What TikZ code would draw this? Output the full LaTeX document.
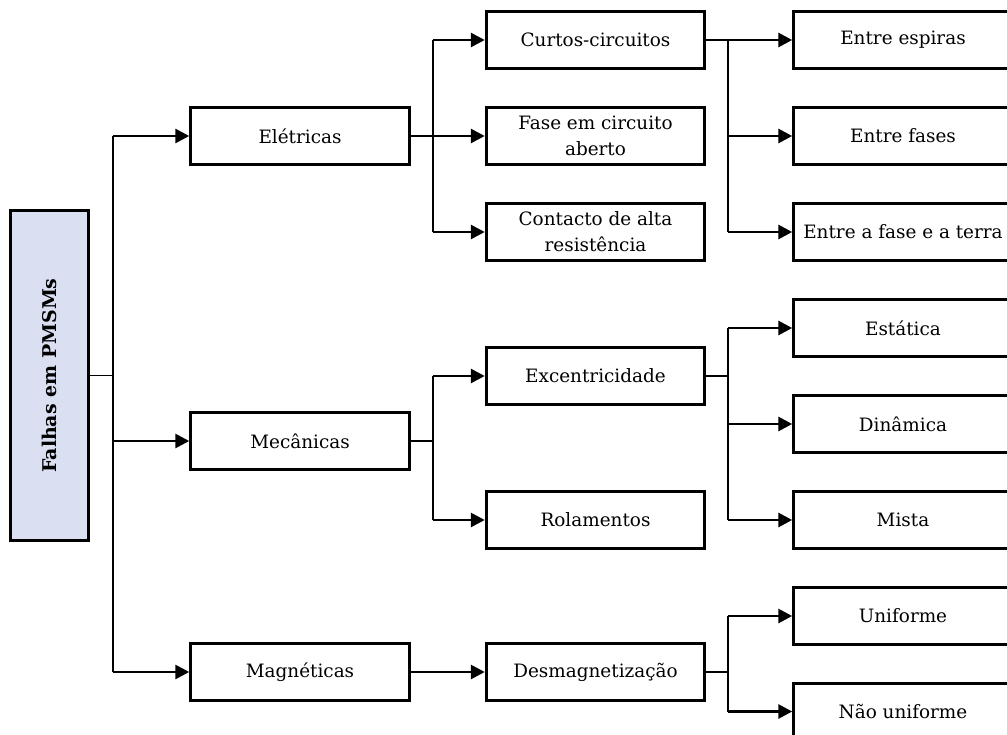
\documentclass[tikz,border=0pt]{standalone}
\usepackage{fontspec}
\setmainfont{DejaVu Serif}
\usepackage{tikz}
\usetikzlibrary{arrows.meta}

\definecolor{rootblue}{RGB}{218,224,242}

\tikzset{
  box/.style={draw,line width=2.1pt,minimum width=164pt,minimum height=42.5pt,
    inner sep=1pt,align=center,font=\fontsize{13.8}{19.5}\selectfont},
  rootbox/.style={draw,line width=2.1pt,fill=rootblue,minimum width=59pt,
    minimum height=247pt,inner sep=0pt},
  conn/.style={line width=2.1pt},
  thinconn/.style={line width=1.1pt},
  arr/.style={line width=2.1pt,-{Triangle[length=10.5pt,width=10.5pt]}}
}

\begin{document}
\begin{tikzpicture}[x=0.75pt,y=-0.75pt]
  \useasboundingbox
    (0,0)
    rectangle
    (1007,735);
  \clip
    (0,0)
    rectangle
    (1007,735);
  \coordinate (t0) at (113,0);
  \coordinate (t1) at (433,0);
  \coordinate (t2) at (728,0);
  \node[rootbox] (root) at (49.5,375.5) {};
  \node[rotate=90,font=\fontsize{14.2}{18}\selectfont\bfseries] (roottext)
    at (root.center) {Falhas em PMSMs};
  \node[box] (ele) at (300,136) {Elétricas};
  \node[box] (mec) at (300,441) {Mecânicas};
  \node[box] (mag) at (300,672) {Magnéticas};
  \node[box] (curtos) at (595.5,40) {Curtos-circuitos};
  \node[box] (fase) at (595.5,136) {Fase em circuito\\aberto};
  \node[box] (cont) at (595.5,232) {Contacto de alta\\resistência};
  \node[box] (exc) at (595.5,376) {Excentricidade};
  \node[box] (rol) at (595.5,520) {Rolamentos};
  \node[box] (des) at (595.5,672) {Desmagnetização};
  \node[box] (esp) at (903,40) {Entre espiras};
  \node[box] (fases) at (903,136) {Entre fases};
  \node[box] (terra) at (903,232) {Entre a fase e a terra};
  \node[box] (est) at (903,328) {Estática};
  \node[box] (din) at (903,424) {Dinâmica};
  \node[box] (mis) at (903,520) {Mista};
  \node[box] (uni) at (903,616) {Uniforme};
  \node[box] (nao) at (903,711.5) {Não uniforme};
  % root
  \draw[thinconn]
    (root.east)
    --
    (root.east -| t0);
  \draw[conn]
    (ele.west -| t0)
    --
    (mag.west -| t0);
  \foreach \n in {ele,mec,mag}
    \draw[arr] (\n.west -| t0) -- (\n.west);
  % Eletricas
  \draw[arr]
    (ele.east)
    --
    (fase.west);
  \draw[conn]
    (curtos.west -| t1)
    --
    (cont.west -| t1);
  \foreach \n in {curtos,cont}
    \draw[arr] (\n.west -| t1) -- (\n.west);
  % Mecanicas
  \draw[conn]
    (mec.east)
    --
    (mec.east -| t1);
  \draw[conn]
    (exc.west -| t1)
    --
    (rol.west -| t1);
  \foreach \n in {exc,rol}
    \draw[arr] (\n.west -| t1) -- (\n.west);
  % Magneticas
  \draw[arr]
    (mag.east)
    --
    (des.west);
  % Curtos-circuitos
  \draw[arr]
    (curtos.east)
    --
    (esp.west);
  \draw[conn]
    (esp.west -| t2)
    --
    (terra.west -| t2);
  \foreach \n in {fases,terra}
    \draw[arr] (\n.west -| t2) -- (\n.west);
  % Excentricidade
  \draw[conn]
    (exc.east)
    --
    (exc.east -| t2);
  \draw[conn]
    (est.west -| t2)
    --
    (mis.west -| t2);
  \foreach \n in {est,din,mis}
    \draw[arr] (\n.west -| t2) -- (\n.west);
  % Desmagnetizacao
  \draw[conn]
    (des.east)
    --
    (des.east -| t2);
  \draw[conn]
    (uni.west -| t2)
    --
    (nao.west -| t2);
  \foreach \n in {uni,nao}
    \draw[arr] (\n.west -| t2) -- (\n.west);
\end{tikzpicture}
\end{document}
